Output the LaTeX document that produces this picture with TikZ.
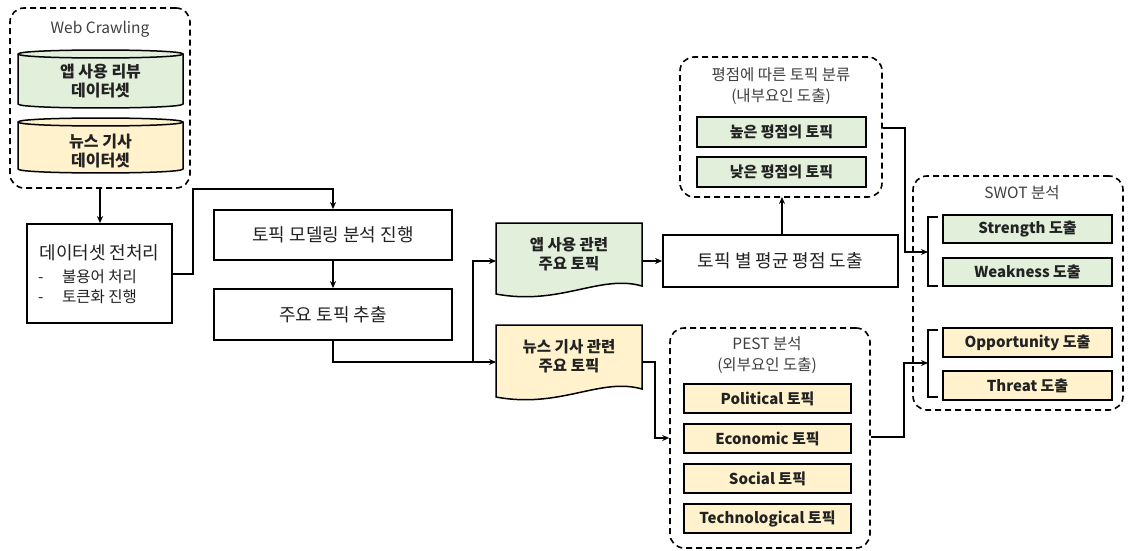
\documentclass[tikz,border=0pt]{standalone}
\usepackage{fontspec}
\setmainfont{Noto Sans CJK KR}
\usetikzlibrary{arrows.meta,calc}
\definecolor{gfill}{HTML}{E2EFDA}
\definecolor{yfill}{HTML}{FFF2CC}
\definecolor{txt}{HTML}{222222}
\tikzset{
  plainbox/.style={draw=black, line width=1.8pt, inner sep=0pt, text=txt, font=\fontsize{18}{22}\selectfont},
  gbox/.style={draw=black, line width=1.5pt, fill=gfill, inner sep=0pt, text=txt, font=\bfseries\fontsize{15}{18}\selectfont},
  ybox/.style={draw=black, line width=1.5pt, fill=yfill, inner sep=0pt, text=txt, font=\bfseries\fontsize{15}{18}\selectfont},
  group/.style={draw=black, dash pattern=on 6pt off 4pt, line width=1.6pt, rounded corners=14pt, inner sep=0pt},
  ttl/.style={font=\fontsize{15.5}{21}\selectfont, text=black!75, align=center, inner sep=0pt},
  doctext/.style={font=\bfseries\fontsize{15.5}{19}\selectfont, text=txt, align=center, inner sep=0pt},
  conn/.style={line width=1.5pt, -{Stealth[length=7pt,width=6pt]}},
  wire/.style={line width=1.5pt},
  brk/.style={line width=1.5pt}
}
\begin{document}
\begin{tikzpicture}[x=1pt,y=-1pt]
\useasboundingbox (0,0) rectangle (1129,551);
\fill[white] (0,0) rectangle (1129,551);

% ---------- Web crawling group ----------
\node[group, minimum width=180pt, minimum height=180pt] (web) at (100,98) {};
\node[ttl] (webt) at (100,29) {Web Crawling};
% cylinder 1
\filldraw[fill=gfill, draw=black, line width=1.5pt]
  (18,54) -- (18,104) .. controls (18,109.3) and (183,109.3) .. (183,104) -- (183,54)
  .. controls (183,48.7) and (18,48.7) .. (18,54) -- cycle;
\draw[line width=1.5pt] (18,54) .. controls (18,59.3) and (183,59.3) .. (183,54);
\node[doctext, font=\bfseries\fontsize{16}{19}\selectfont] (cyl1) at (100.5,81) {앱 사용 리뷰\\데이터셋};
% cylinder 2
\filldraw[fill=yfill, draw=black, line width=1.5pt]
  (18,122) -- (18,169) .. controls (18,174.3) and (183,174.3) .. (183,169) -- (183,122)
  .. controls (183,116.7) and (18,116.7) .. (18,122) -- cycle;
\draw[line width=1.5pt] (18,122) .. controls (18,127.3) and (183,127.3) .. (183,122);
\node[doctext, font=\bfseries\fontsize{16}{19}\selectfont] (cyl2) at (100.5,151) {뉴스 기사\\데이터셋};

% ---------- preprocessing ----------
\node[plainbox, minimum width=145pt, minimum height=99pt] (pre) at (99.5,273.5) {};
\node[inner sep=0pt, text=txt, font=\fontsize{18}{22}\selectfont] (pret) at (99.5,253) {데이터셋 전처리};
\node[inner sep=0pt, text=txt, anchor=west, font=\fontsize{15.5}{19}\selectfont] (pre1) at (38,277) {\makebox[24pt][l]{-}불용어 처리};
\node[inner sep=0pt, text=txt, anchor=west, font=\fontsize{15.5}{19}\selectfont] (pre2) at (38,297) {\makebox[24pt][l]{-}토큰화 진행};

% ---------- topic modeling ----------
\node[plainbox, minimum width=238pt, minimum height=50pt] (topic) at (333,235) {토픽 모델링 분석 진행};
\node[plainbox, minimum width=238pt, minimum height=51pt] (extract) at (333,314.5) {주요 토픽 추출};

% ---------- documents ----------
\filldraw[fill=gfill, draw=black, line width=1.5pt]
  (496,223) -- (642,223) -- (642,286) .. controls (600,274) and (560,306) .. (496,294) -- cycle;
\node[doctext] (doc1) at (569,254) {앱 사용 관련\\주요 토픽};
\coordinate (doc1w) at (496,261);
\coordinate (doc1e) at (642,261);

\filldraw[fill=yfill, draw=black, line width=1.5pt]
  (496,325) -- (642,325) -- (642,389) .. controls (600,377) and (560,409) .. (496,397) -- cycle;
\node[doctext] (doc2) at (569,356) {뉴스 기사 관련\\주요 토픽};
\coordinate (doc2w) at (496,362);
\coordinate (doc2e) at (642,362);

% ---------- average rating ----------
\node[plainbox, minimum width=235pt, minimum height=52pt] (avg) at (780.5,261) {토픽 별 평균 평점 도출};

% ---------- rating group ----------
\node[group, minimum width=202pt, minimum height=140pt] (rating) at (781,127) {};
\node[ttl] (ratingt) at (781,86) {평점에 따른 토픽 분류\\(내부요인 도출)};
\node[gbox, minimum width=169pt, minimum height=30pt] (high) at (781.5,132) {높은 평점의 토픽};
\node[gbox, minimum width=169pt, minimum height=30pt] (low) at (781.5,172) {낮은 평점의 토픽};

% ---------- PEST group ----------
\node[group, minimum width=200pt, minimum height=220pt] (pest) at (770,438) {};
\node[ttl] (pestt) at (767,355.5) {PEST 분석\\(외부요인 도출)};
\node[ybox, minimum width=167pt, minimum height=29pt] (pol) at (767.5,398.5) {Political 토픽};
\node[ybox, minimum width=167pt, minimum height=29pt] (eco) at (767.5,438.5) {Economic 토픽};
\node[ybox, minimum width=167pt, minimum height=29pt] (soc) at (767.5,478.5) {Social 토픽};
\node[ybox, minimum width=167pt, minimum height=29pt] (tec) at (767.5,518.5) {Technological 토픽};

% ---------- SWOT group ----------
\node[group, minimum width=210pt, minimum height=234pt] (swot) at (1018,293) {};
\node[ttl] (swott) at (1022,193) {SWOT 분석};
\node[gbox, minimum width=169pt, minimum height=28pt] (sS) at (1027.5,229) {Strength 도출};
\node[gbox, minimum width=169pt, minimum height=28pt] (sW) at (1027.5,272) {Weakness 도출};
\node[ybox, minimum width=169pt, minimum height=29pt] (sO) at (1027.5,342.5) {Opportunity 도출};
\node[ybox, minimum width=169pt, minimum height=29pt] (sT) at (1027.5,385.5) {Threat 도출};

% brackets
\draw[brk] (938,217) -- (928,217) -- (928,286) -- (938,286);
\draw[brk] (938,330) -- (928,330) -- (928,397) -- (938,397);
\coordinate (b1) at (928,252);
\coordinate (b2) at (928,363);

% ---------- connectors ----------
\draw[conn] (web.south) -- (web.south |- pre.north);
\draw[conn] (pre.east |- 0,274) -- (193,274) -- (193,189) -- (333,189) -- (topic.north);
\draw[conn] (topic.south) -- (extract.north);
\coordinate (fork) at (473,362);
\draw[wire] (extract.south) -- (333,362) -- (fork);
\draw[conn] (fork) -- (473,261) -- (doc1w);
\draw[conn] (fork) -- (doc2w);
\draw[conn] (doc1e) -- (doc1e -| avg.west);
\draw[conn] (782,235) -- (782,197);
\draw[conn] (rating.east |- 0,128) -- (905,128) -- (905,252) -- (b1);
\draw[conn] (doc2e) -- (655,362) -- (655,438) -- (pest.west);
\draw[conn] (pest.east |- 0,437) -- (904,437) -- (904,363) -- (b2);
\end{tikzpicture}
\end{document}
